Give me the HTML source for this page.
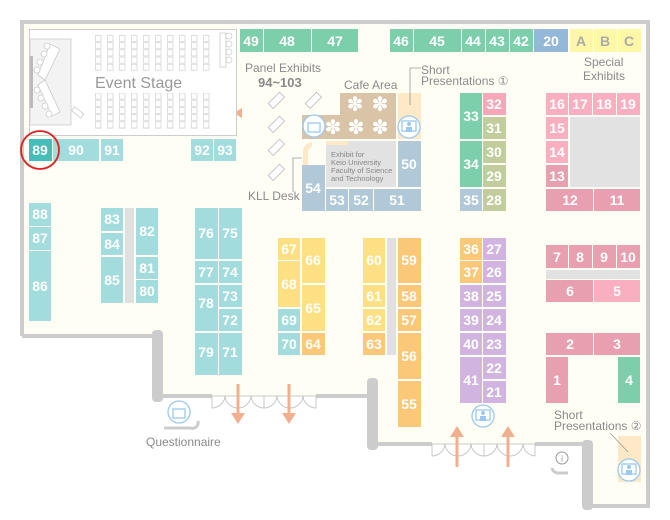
<!DOCTYPE html>
<html><head><meta charset="utf-8"><style>
html,body{margin:0;padding:0;background:#fff;}
svg{display:block}
.b text{font-family:"Liberation Sans",sans-serif;font-weight:bold;fill:#fff;font-size:14px;text-anchor:middle;dominant-baseline:central}
.l{font-family:"Liberation Sans",sans-serif;fill:#8a8a8a;font-size:12px}
</style></head><body>
<svg width="670" height="520" viewBox="0 0 670 520" xmlns="http://www.w3.org/2000/svg">
<defs>
<pattern id="seat" x="95" y="35" width="12" height="7.2" patternUnits="userSpaceOnUse">
<rect x="0.5" y="0.5" width="5.5" height="6" fill="#fff" stroke="#d0d0d0" stroke-width="0.7"/>
</pattern>
</defs>
<path d="M22 22 H648 V506 H592 V444 H378 V396 H160 V336 H22 Z" fill="#fffef5"/>
<path d="M22 336 V22 H648 V506 H592" fill="none" stroke="#cccccc" stroke-width="4"/>
<path d="M22 336 H158" stroke="#ccc" stroke-width="4"/>
<path d="M160 396 H212 M316 396 H370" stroke="#ccc" stroke-width="4"/>
<path d="M378 444 H432 M535 444 H585" stroke="#ccc" stroke-width="4"/>
<rect x="152" y="330" width="11" height="72" rx="4" fill="#ccc"/>
<rect x="367" y="378" width="11" height="72" rx="4" fill="#ccc"/>
<rect x="582" y="440" width="11" height="70" rx="4" fill="#ccc"/>
<g fill="none" stroke="#bbb" stroke-width="0.8">
<path d="M212 396 V408 A13 13 0 0 0 225 396 A13 13 0 0 0 238 408 A13 13 0 0 0 251 396 A13 13 0 0 0 264 408 V396 M264 408 A13 13 0 0 0 277 396 A13 13 0 0 0 290 408 A13 13 0 0 0 303 396 A13 13 0 0 0 316 408 V396 M212 396 H316"/>
<path d="M432 444 V456 A13 13 0 0 0 445 444 A13 13 0 0 0 458 456 A13 13 0 0 0 471 444 A13 13 0 0 0 484 456 V444 M484 456 A13 13 0 0 0 497 444 A13 13 0 0 0 510 456 A13 13 0 0 0 523 444 A13 13 0 0 0 535 456 V444 M432 444 H535"/>
</g>
<g fill="#f0b090" stroke="#f0b090">
<path d="M238 384 V414" stroke-width="3"/><path d="M231 413 H245 L238 424 Z" stroke="none"/>
<path d="M289 384 V414" stroke-width="3"/><path d="M282 413 H296 L289 424 Z" stroke="none"/>
<path d="M457 467 V436" stroke-width="3"/><path d="M450 437 H464 L457 426 Z" stroke="none"/>
<path d="M508 467 V436" stroke-width="3"/><path d="M501 437 H515 L508 426 Z" stroke="none"/>
<path d="M234 113 L242 108 V118 Z" stroke="none"/>
</g>
<rect x="29.5" y="29.5" width="207" height="106" fill="#fff" stroke="#ccc"/>
<rect x="30" y="39" width="41" height="86" fill="#f3f3f3" stroke="#ccc" stroke-width="0.8"/>
<rect x="30" y="56" width="3" height="52" fill="#bbb"/>
<rect x="95" y="35" width="120" height="36" fill="url(#seat)"/>
<rect x="95" y="93" width="120" height="36" fill="url(#seat)"/>
<rect x="220" y="33" width="6" height="34" fill="#fff" stroke="#ccc" stroke-width="0.8"/>
<g fill="#fff" stroke="#ccc" stroke-width="0.8">
<circle cx="229" cy="36" r="3"/><circle cx="229" cy="44" r="3"/><circle cx="229" cy="52" r="3"/><circle cx="229" cy="60" r="3"/>
<path d="M50 44 L60 49 L45 80 L38 75 Z M38 85 L45 80 L60 112 L52 116 Z"/>
<circle cx="47" cy="46" r="3"/><circle cx="44" cy="54" r="3"/><circle cx="40" cy="62" r="3"/><circle cx="37" cy="70" r="3"/><circle cx="37" cy="90" r="3"/><circle cx="41" cy="98" r="3"/><circle cx="45" cy="106" r="3"/><circle cx="49" cy="114" r="3"/>
<rect x="72" y="110" width="12" height="5" transform="rotate(40 78 112)"/>
</g>
<text x="95" y="88" class="l" style="font-size:16px;fill:#999">Event Stage</text>
<g class="b">
<g fill="#7dcfac">
<rect x="240" y="29" width="23" height="23"/><rect x="264" y="29" width="47" height="23"/><rect x="312" y="29" width="46" height="23"/>
<rect x="390" y="29" width="23" height="23"/><rect x="414" y="29" width="47" height="23"/><rect x="462" y="29" width="23" height="23"/><rect x="486" y="29" width="23" height="23"/><rect x="510" y="29" width="23" height="23"/>
<rect x="460" y="93" width="22" height="46"/><rect x="460" y="141" width="22" height="46"/><rect x="618" y="357" width="22" height="46"/>
</g>
<rect x="534" y="29" width="34" height="23" fill="#94b8d8"/>
<g fill="#fff7a8"><rect x="570" y="29" width="23" height="23"/><rect x="594" y="29" width="23" height="23"/><rect x="618" y="29" width="23" height="23"/></g>
<text x="251" y="41">49</text><text x="287" y="41">48</text><text x="335" y="41">47</text><text x="401" y="41">46</text><text x="437" y="41">45</text><text x="473" y="41">44</text><text x="497" y="41">43</text><text x="521" y="41">42</text><text x="551" y="41">20</text>
<text x="581" y="41" style="fill:#aaa">A</text><text x="605" y="41" style="fill:#aaa">B</text><text x="629" y="41" style="fill:#aaa">C</text>
<text x="471" y="116">33</text><text x="471" y="164">34</text><text x="629" y="380">4</text>
<g fill="#a3dcdc">
<rect x="53" y="139" width="46" height="22"/><rect x="101" y="139" width="22" height="22"/><rect x="191" y="139" width="22" height="22"/><rect x="214" y="139" width="22" height="22"/>
<rect x="29" y="203" width="22" height="23"/><rect x="29" y="227" width="22" height="23"/><rect x="29" y="251" width="22" height="70"/>
<rect x="101" y="208" width="22" height="23"/><rect x="101" y="233" width="22" height="22"/><rect x="101" y="257" width="22" height="46"/>
<rect x="136" y="208" width="22" height="47"/><rect x="136" y="257" width="22" height="22"/><rect x="136" y="280" width="22" height="23"/>
<rect x="195" y="208" width="23" height="51"/><rect x="219" y="208" width="23" height="51"/><rect x="195" y="261" width="23" height="22"/><rect x="219" y="261" width="23" height="22"/>
<rect x="195" y="285" width="23" height="46"/><rect x="219" y="285" width="23" height="22"/><rect x="219" y="309" width="23" height="22"/><rect x="195" y="333" width="23" height="42"/><rect x="219" y="333" width="23" height="42"/>
<rect x="278" y="309" width="22" height="22"/><rect x="278" y="333" width="22" height="22"/>
</g>
<rect x="29" y="139" width="23" height="22" fill="#45bdb8"/>
<rect x="125" y="208" width="9" height="95" fill="#e0e0e0"/>
<text x="40" y="150">89</text><text x="76" y="150">90</text><text x="112" y="150">91</text><text x="202" y="150">92</text><text x="225" y="150">93</text>
<text x="40" y="214">88</text><text x="40" y="238">87</text><text x="40" y="286">86</text>
<text x="112" y="219">83</text><text x="112" y="244">84</text><text x="112" y="280">85</text><text x="147" y="231">82</text><text x="147" y="268">81</text><text x="147" y="291">80</text>
<text x="206" y="233">76</text><text x="230" y="233">75</text><text x="206" y="272">77</text><text x="230" y="272">74</text><text x="206" y="303">78</text><text x="230" y="296">73</text><text x="230" y="320">72</text><text x="206" y="352">79</text><text x="230" y="352">71</text>
<text x="289" y="320">69</text><text x="289" y="344">70</text>
<g fill="#fde083"><rect x="278" y="238" width="22" height="22"/><rect x="302" y="238" width="23" height="45"/><rect x="278" y="261" width="22" height="46"/><rect x="302" y="285" width="23" height="46"/>
<rect x="363" y="238" width="22" height="45"/><rect x="363" y="285" width="22" height="22"/><rect x="363" y="309" width="22" height="22"/></g>
<g fill="#fbc87a"><rect x="302" y="333" width="23" height="22"/><rect x="363" y="333" width="22" height="22"/>
<rect x="398" y="238" width="23" height="45"/><rect x="398" y="285" width="23" height="22"/><rect x="398" y="309" width="23" height="22"/><rect x="398" y="333" width="23" height="46"/><rect x="398" y="381" width="23" height="46"/>
<rect x="460" y="238" width="22" height="22"/><rect x="460" y="261" width="22" height="22"/></g>
<rect x="387" y="238" width="9" height="117" fill="#e0e0e0"/>
<text x="289" y="249">67</text><text x="313" y="260">66</text><text x="289" y="284">68</text><text x="313" y="308">65</text><text x="313" y="344">64</text>
<text x="374" y="260">60</text><text x="374" y="296">61</text><text x="374" y="320">62</text><text x="374" y="344">63</text>
<text x="409" y="260">59</text><text x="409" y="296">58</text><text x="409" y="320">57</text><text x="409" y="356">56</text><text x="409" y="404">55</text>
<g fill="#d1b5e0"><rect x="483" y="238" width="23" height="22"/><rect x="483" y="261" width="23" height="22"/>
<rect x="460" y="285" width="22" height="22"/><rect x="483" y="285" width="23" height="22"/><rect x="460" y="309" width="22" height="22"/><rect x="483" y="309" width="23" height="22"/>
<rect x="460" y="333" width="22" height="22"/><rect x="483" y="333" width="23" height="22"/><rect x="460" y="357" width="22" height="46"/><rect x="483" y="357" width="23" height="22"/><rect x="483" y="381" width="23" height="22"/></g>
<text x="471" y="249">36</text><text x="494" y="249">27</text><text x="471" y="272">37</text><text x="494" y="272">26</text>
<text x="471" y="296">38</text><text x="494" y="296">25</text><text x="471" y="320">39</text><text x="494" y="320">24</text>
<text x="471" y="344">40</text><text x="494" y="344">23</text><text x="471" y="380">41</text><text x="494" y="368">22</text><text x="494" y="392">21</text>
<rect x="483" y="93" width="23" height="22" fill="#f7a8b8"/>
<g fill="#c3cc9c"><rect x="483" y="117" width="23" height="22"/><rect x="483" y="141" width="23" height="22"/><rect x="483" y="165" width="23" height="22"/><rect x="483" y="189" width="23" height="22"/></g>
<rect x="460" y="189" width="22" height="22" fill="#b0c8d8"/>
<text x="494" y="104">32</text><text x="494" y="128">31</text><text x="494" y="152">30</text><text x="494" y="176">29</text><text x="494" y="200">28</text><text x="471" y="200">35</text>
<g fill="#b0c8d8"><rect x="398" y="141" width="23" height="46"/><rect x="302" y="165" width="23" height="46"/><rect x="326" y="189" width="22" height="22"/><rect x="349" y="189" width="24" height="22"/><rect x="374" y="189" width="47" height="22"/></g>
<text x="409" y="164">50</text><text x="313" y="188">54</text><text x="337" y="200">53</text><text x="361" y="200">52</text><text x="397" y="200">51</text>
<g fill="#f9afc0"><rect x="546" y="93" width="22" height="22"/><rect x="569" y="93" width="23" height="22"/><rect x="593" y="93" width="23" height="22"/><rect x="617" y="93" width="23" height="22"/><rect x="546" y="117" width="22" height="22"/><rect x="546" y="141" width="22" height="22"/><rect x="594" y="280" width="46" height="22"/></g>
<g fill="#e8a0b0"><rect x="546" y="165" width="22" height="22"/><rect x="546" y="189" width="47" height="22"/><rect x="594" y="189" width="46" height="22"/>
<rect x="546" y="245" width="22" height="23"/><rect x="569" y="245" width="23" height="23"/><rect x="593" y="245" width="23" height="23"/><rect x="617" y="245" width="23" height="23"/>
<rect x="546" y="280" width="47" height="22"/><rect x="546" y="333" width="47" height="22"/><rect x="594" y="333" width="46" height="22"/><rect x="546" y="357" width="22" height="46"/></g>
<rect x="570" y="117" width="70" height="70" fill="#e2e2e2"/>
<rect x="546" y="270" width="94" height="9" fill="#e2e2e2"/>
<text x="557" y="104">16</text><text x="580" y="104">17</text><text x="604" y="104">18</text><text x="628" y="104">19</text><text x="557" y="128">15</text><text x="557" y="152">14</text><text x="557" y="176">13</text><text x="570" y="200">12</text><text x="617" y="200">11</text>
<text x="557" y="257">7</text><text x="580" y="257">8</text><text x="604" y="257">9</text><text x="628" y="257">10</text><text x="570" y="291">6</text><text x="617" y="291">5</text><text x="570" y="344">2</text><text x="617" y="344">3</text><text x="557" y="380">1</text>
</g>
<path d="M340 93 H396 V139 H302 V115 H340 Z" fill="#d9c4a8"/>
<rect x="398" y="93" width="23" height="46" fill="#fde9c6"/>
<rect x="618" y="436" width="23" height="46" fill="#fde9c6"/>
<rect x="326" y="141" width="70" height="46" fill="#e2e2e2"/>
<rect x="326" y="141" width="22" height="4" fill="#fde9c6"/>
<path d="M303 165 V152 A10 10 0 0 1 312 142 V147 A5 5 0 0 0 308 152 V165 Z" fill="#fde9c6"/>
<g fill="#fff" font-family="DejaVu Sans" font-size="20" text-anchor="middle" dominant-baseline="central">
<text x="355" y="104">✽</text><text x="380" y="104">✽</text><text x="333" y="127">✽</text><text x="356" y="127">✽</text><text x="380" y="127">✽</text></g>
<text x="331" y="157" class="l" style="font-size:7.5px;fill:#888">Exhibit for</text>
<text x="331" y="165" class="l" style="font-size:7.5px;fill:#888">Keio University</text>
<text x="331" y="173" class="l" style="font-size:7.5px;fill:#888">Faculty of Science</text>
<text x="331" y="181" class="l" style="font-size:7.5px;fill:#888">and Technology</text>
<g fill="#fff" stroke="#9cc8ef" stroke-width="1.3">
<circle cx="314" cy="126" r="11"/><circle cx="409" cy="127" r="11"/><circle cx="483" cy="416" r="11"/><circle cx="629" cy="470" r="11"/><circle cx="179" cy="412" r="11"/>
<rect x="308" y="123" width="12" height="9"/><rect x="173" y="409" width="12" height="9"/>
<rect x="402" y="121" width="14" height="10"/><rect x="476" y="410" width="14" height="10"/><rect x="622" y="464" width="14" height="10"/>
</g>
<g fill="#9cc8ef"><circle cx="409" cy="124" r="2"/><rect x="406" y="127" width="6" height="5"/><circle cx="483" cy="413" r="2"/><rect x="480" y="416" width="6" height="5"/><circle cx="629" cy="467" r="2"/><rect x="626" y="470" width="6" height="5"/></g>
<path d="M164 428 H190 A6 6 0 0 0 198 421" fill="none" stroke="#ccc" stroke-width="3"/>
<path d="M552 468 A6 6 0 0 0 558 473 H568" fill="none" stroke="#ccc" stroke-width="3"/>
<circle cx="562" cy="458" r="6" fill="#fff" stroke="#999"/><text x="562" y="461.5" text-anchor="middle" font-family="Liberation Sans" font-size="9" fill="#999">i</text>
<g fill="#fff" stroke="#bbb" stroke-width="0.8">
<rect x="268" y="97" width="16" height="7" transform="rotate(-45 276 100)"/><rect x="305" y="97" width="16" height="7" transform="rotate(-45 313 100)"/>
<rect x="268" y="121" width="16" height="7" transform="rotate(-45 276 124)"/><rect x="268" y="144" width="16" height="7" transform="rotate(-45 276 147)"/><rect x="268" y="169" width="16" height="7" transform="rotate(-45 276 172)"/>
</g>
<g fill="none" stroke="#999" stroke-width="0.8"><path d="M302 158 H293 V192"/><path d="M421 68 H410 V105"/><path d="M610 433 L628 452"/></g>
<circle cx="40" cy="150" r="19" fill="none" stroke="#e02020" stroke-width="1.8"/>
<text x="245" y="72" class="l">Panel Exhibits</text>
<text x="258" y="87" class="l" style="font-weight:bold;font-size:13px">94~103</text>
<text x="344" y="89" class="l">Cafe Area</text>
<text x="421" y="74" class="l">Short</text><text x="421" y="85" class="l">Presentations ①</text>
<text x="584" y="66" class="l">Special</text><text x="583" y="80" class="l">Exhibits</text>
<text x="248" y="200" class="l">KLL Desk</text>
<text x="146" y="446" class="l">Questionnaire</text>
<text x="554" y="419" class="l">Short</text><text x="554" y="430" class="l">Presentations ②</text>
</svg>
</body></html>
